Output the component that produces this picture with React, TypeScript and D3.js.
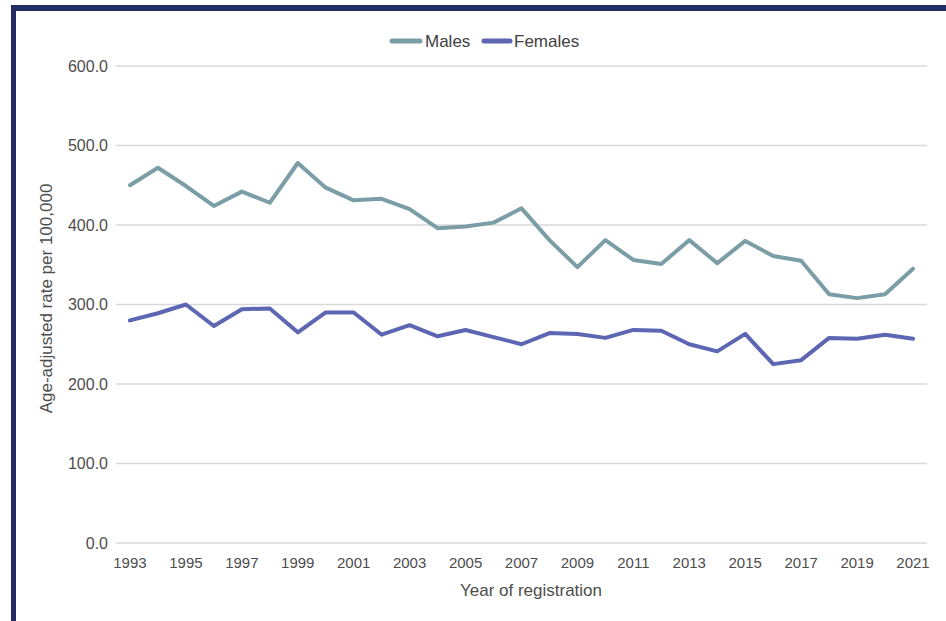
import React from "react";
import * as d3 from "d3";

const years: number[] = d3.range(1993, 2022);
const males: number[] = [450, 472, 449, 424, 442, 428, 478, 447, 431, 433, 420, 396, 398, 403, 421, 381, 347, 381, 356, 351, 381, 352, 380, 361, 355, 313, 308, 313, 345];
const females: number[] = [280, 289, 300, 273, 294, 295, 265, 290, 290, 262, 274, 260, 268, 259, 250, 264, 263, 258, 268, 267, 250, 241, 263, 225, 230, 258, 257, 262, 257];
const yTicks: number[] = [0, 100, 200, 300, 400, 500, 600];
const xTickYears: number[] = years.filter((y) => y % 2 === 1);
const seriesNames: string[] = ["Males", "Females"];
const seriesColors: string[] = ["#7b9ea6", "#5c66b3"];

const W = 946;
const H = 621;
const left = 116;
const right = 927;
const top = 66;
const bottom = 543;

export default function App() {
  const x = d3.scaleBand<number>().domain(years).range([left, right]);
  const xc = (yr: number) => (x(yr) as number) + x.bandwidth() / 2;
  const y = d3.scaleLinear().domain([0, 600]).range([bottom, top]);
  const line = d3
    .line<number>()
    .x((_, i) => xc(years[i]))
    .y((d) => y(d));
  const font = "'Liberation Sans', Arial, sans-serif";
  const series = [males, females];
  return (
    <svg width={W} height={H} style={{ position: "absolute", left: 0, top: 0, background: "#fff" }} fontFamily={font}>
      <rect x={0} y={0} width={W} height={H} fill="#fff" />
      <rect x={11} y={5} width={W - 11} height={6} fill="#222c62" />
      <rect x={11} y={5} width={5} height={H - 5} fill="#222c62" />
      {yTicks.map((t) => (
        <g key={t}>
          <line x1={left} x2={right} y1={y(t)} y2={y(t)} stroke="#d9d9d9" strokeWidth={1.3} />
          <text x={108} y={y(t)} dy="0.35em" textAnchor="end" fontSize={16} fill="#4d4d4d">
            {d3.format(".1f")(t)}
          </text>
        </g>
      ))}
      {xTickYears.map((yr) => (
        <text key={yr} x={xc(yr)} y={568} textAnchor="middle" fontSize={15} fill="#4d4d4d">
          {yr}
        </text>
      ))}
      <text x={531} y={596} textAnchor="middle" fontSize={17} fill="#4d4d4d">
        Year of registration
      </text>
      <text
        transform={`translate(52,${(top + bottom) / 2 - 6}) rotate(-90)`}
        textAnchor="middle"
        fontSize={17}
        fill="#4d4d4d"
      >
        Age-adjusted rate per 100,000
      </text>
      {series.map((s, i) => (
        <path key={i} d={line(s) || ""} fill="none" stroke={seriesColors[i]} strokeWidth={4} strokeLinejoin="round" strokeLinecap="round" />
      ))}
      <g>
        <line x1={392} x2={420} y1={41} y2={41} stroke={seriesColors[0]} strokeWidth={5} strokeLinecap="round" />
        <text x={425} y={41} dy="0.35em" fontSize={17} fill="#404040">{seriesNames[0]}</text>
        <line x1={484} x2={510} y1={41} y2={41} stroke={seriesColors[1]} strokeWidth={5} strokeLinecap="round" />
        <text x={514} y={41} dy="0.35em" fontSize={17} fill="#404040">{seriesNames[1]}</text>
      </g>
    </svg>
  );
}
